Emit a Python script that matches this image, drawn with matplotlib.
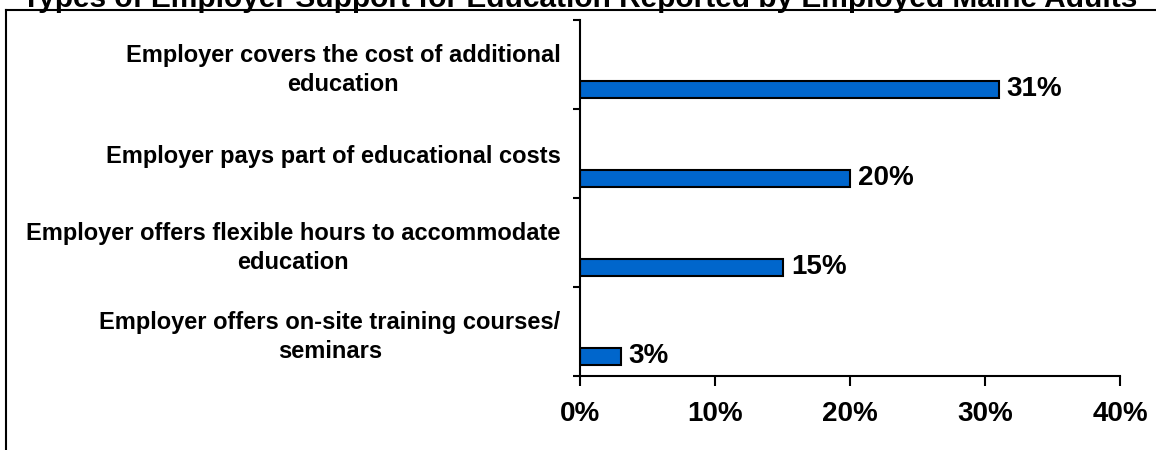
import matplotlib.pyplot as plt
from matplotlib.lines import Line2D
from matplotlib.ticker import FixedLocator, PercentFormatter

plt.rcParams['font.family'] = ['Liberation Sans', 'DejaVu Sans']
plt.rcParams['font.weight'] = 'bold'

# Dados (de baixo para cima)
categorias = [
    "Employer offers on-site training courses/\nseminars",
    "Employer offers flexible hours to accommodate\neducation",
    "Employer pays part of educational costs",
    "Employer covers the cost of additional\neducation",
]
valores = [3, 15, 20, 31]
ticks_x = [0, 10, 20, 30, 40]

W, H = 1156, 450
fig = plt.figure(figsize=(W / 100, H / 100), dpi=100)
ax = fig.add_axes([580 / W, 1 - 376 / H, 540 / W, 356 / H])

# Barras na parte de baixo de cada faixa
posicoes = [i + 0.22 for i in range(len(valores))]
ax.barh(posicoes, valores, height=0.19, color='#0066CC',
        edgecolor='black', linewidth=1.5)

for y, v in zip(posicoes, valores):
    ax.annotate(f'{v}%', (v, y), xytext=(6, 0), textcoords='offset points',
                va='center', ha='left', fontsize=20, fontweight='bold')

ax.set_xlim(0, 40)
ax.set_ylim(0, len(valores))
ax.set_xticks(ticks_x)
ax.xaxis.set_major_formatter(PercentFormatter(decimals=0))

# Rotulos no centro de cada faixa, marcas nos limites
ax.set_yticks([i + 0.5 for i in range(len(valores))])
ax.set_yticklabels(categorias)
ax.yaxis.set_minor_locator(FixedLocator(range(len(valores) + 1)))
for lbl in ax.get_yticklabels():
    lbl.set_multialignment('center')
    lbl.set_fontsize(17)
    lbl.set_fontweight('bold')
    lbl.set_linespacing(1.35)

ax.tick_params(axis='y', which='major', length=0, pad=14)
ax.tick_params(axis='y', which='minor', length=5, width=1.5, direction='out')
ax.tick_params(axis='x', length=7, width=1.5, direction='out', pad=11,
               labelsize=20)

for s in ['top', 'right']:
    ax.spines[s].set_visible(False)
for s in ['left', 'bottom']:
    ax.spines[s].set_linewidth(1.5)

# Titulo e moldura
fig.text(580 / W, 1 - 7 / H,
         'Types of Employer Support for Education Reported by Employed Maine Adults',
         ha='center', va='baseline', fontsize=21.5, fontweight='bold')
fig.add_artist(Line2D([6 / W, 1], [1 - 10 / H, 1 - 10 / H], color='black', lw=1.5))
fig.add_artist(Line2D([6 / W, 6 / W], [0, 1 - 10 / H], color='black', lw=1.5))

plt.savefig('out.png', dpi=100)
